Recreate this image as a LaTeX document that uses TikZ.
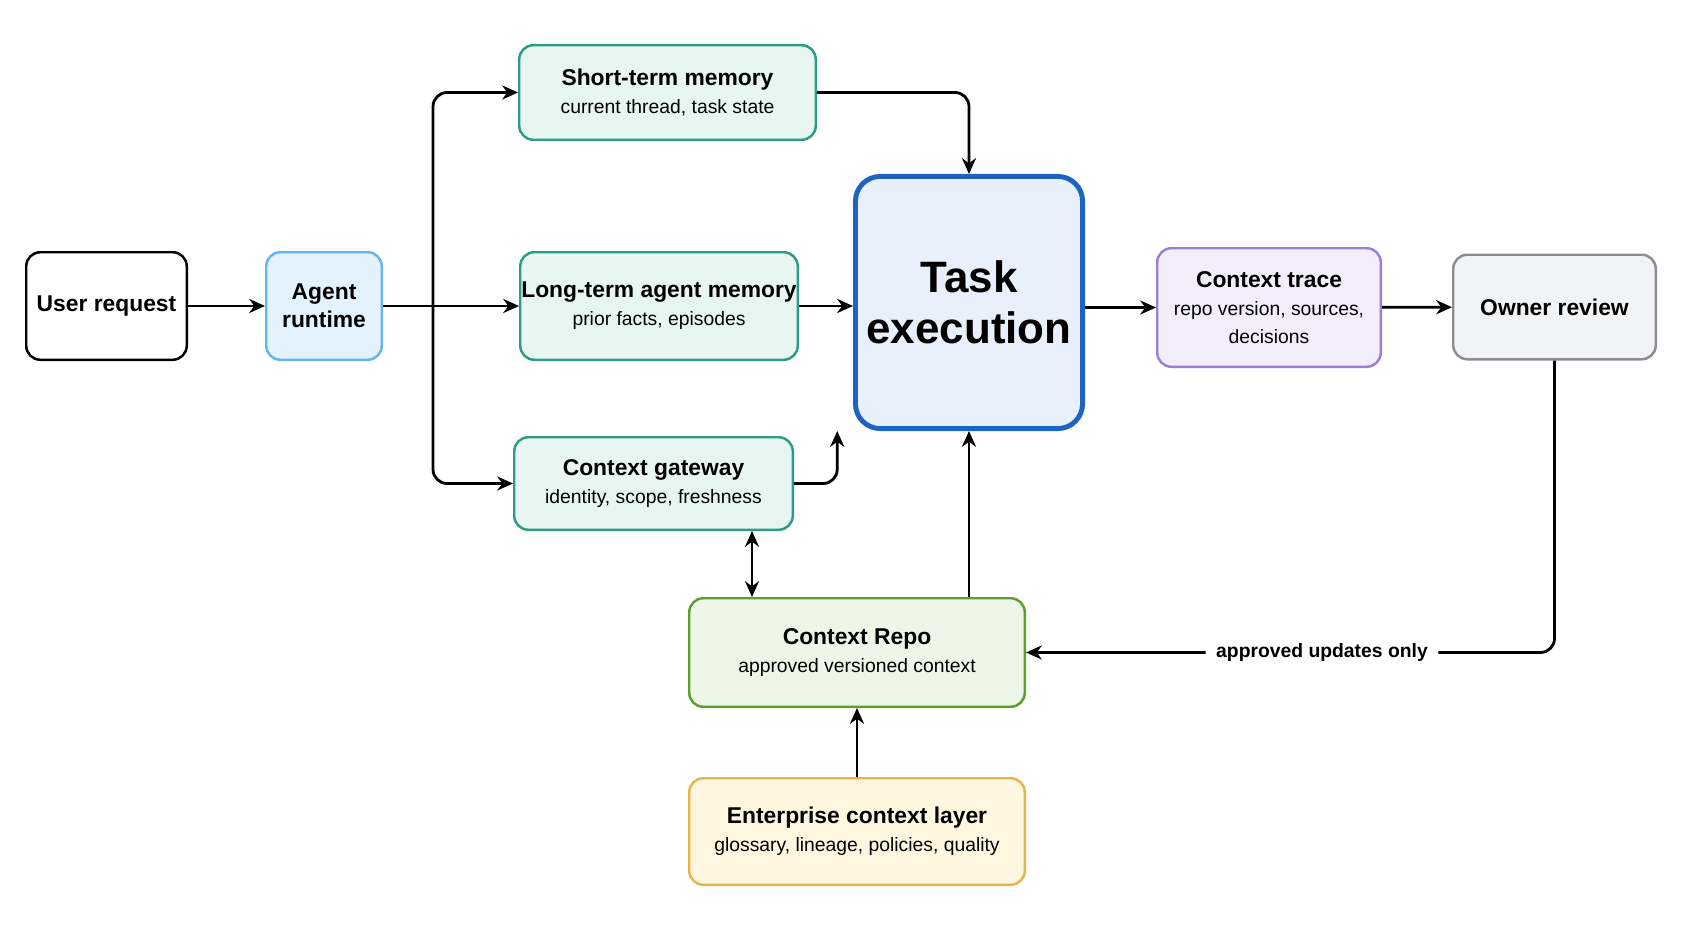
\documentclass[tikz,border=0pt]{standalone}
\usepackage{fontspec}
\setmainfont{Liberation Sans}
\usetikzlibrary{arrows.meta}
\definecolor{teal1}{HTML}{E8F6F2}\definecolor{teal2}{HTML}{2E9C85}
\definecolor{blue1}{HTML}{E3F2FD}\definecolor{blue2}{HTML}{64B5F6}
\definecolor{task1}{HTML}{E8F0FC}\definecolor{task2}{HTML}{1E63C4}
\definecolor{pur1}{HTML}{F3EEFB}\definecolor{pur2}{HTML}{9B7FD6}
\definecolor{gr1}{HTML}{F2F3F5}\definecolor{gr2}{HTML}{8A8D91}
\definecolor{grn1}{HTML}{EEF6E8}\definecolor{grn2}{HTML}{5AA02C}
\definecolor{yel1}{HTML}{FFF6E0}\definecolor{yel2}{HTML}{E6B44A}
\tikzset{
 box/.style={draw, rounded corners=8pt, line width=1.4pt, align=center, inner sep=0pt, font=\fontsize{13}{16}\selectfont},
 arr/.style={-{Stealth[length=9pt,width=8pt]}, line width=1.6pt, rounded corners=8pt},
 sub/.style={font=\fontsize{11}{15}\selectfont}
}
\newcommand{\bx}[7]{\node[box,#6,minimum width=#3*0.02cm-1.4pt,minimum height=#4*0.02cm-1.4pt] (#1) at (#2) {#7};}
\begin{document}
\begin{tikzpicture}[x=0.02cm,y=-0.02cm]
\useasboundingbox (0,0) rectangle (1693,929);
\bx{user}{106.5,306}{163}{110}{}{draw=black,fill=white}{\textbf{User request}}
\bx{agent}{324,306}{118}{110}{}{draw=blue2,fill=blue1}{\textbf{Agent}\\\textbf{runtime}}
\bx{stm}{667.5,92.5}{299}{97}{}{draw=teal2,fill=teal1}{\textbf{Short-term memory}\\{\fontsize{11}{15}\selectfont current thread, task state}}
\bx{ltm}{659,306}{280}{110}{}{draw=teal2,fill=teal1}{\textbf{Long-term agent memory}\\{\fontsize{11}{15}\selectfont prior facts, episodes}}
\bx{gw}{653.5,483.5}{281}{95}{}{draw=teal2,fill=teal1}{\textbf{Context gateway}\\{\fontsize{11}{15}\selectfont identity, scope, freshness}}
\node[box,draw=task2,fill=task1,line width=2.8pt,rounded corners=14pt,minimum width=232*0.02cm-2.8pt,minimum height=257*0.02cm-2.8pt,font=\fontsize{25}{29}\selectfont\bfseries] (task) at (969,302.5) {Task\\execution};
\bx{trace}{1269,307.5}{226}{121}{}{draw=pur2,fill=pur1}{\textbf{Context trace}\\{\fontsize{11}{15}\selectfont repo version, sources,}\\{\fontsize{11}{15}\selectfont decisions}}
\bx{owner}{1554.5,307}{205}{107}{}{draw=gr2,fill=gr1}{\textbf{Owner review}}
\bx{repo}{857,652.5}{338}{111}{}{draw=grn2,fill=grn1}{\textbf{Context Repo}\\{\fontsize{11}{15}\selectfont approved versioned context}}
\bx{ent}{857,831.5}{338}{109}{}{draw=yel2,fill=yel1}{\textbf{Enterprise context layer}\\{\fontsize{11}{15}\selectfont glossary, lineage, policies, quality}}
\coordinate (br) at (433,306);
\draw[arr] (user) -- (agent);
\draw[arr] (agent) -- (ltm);
\draw[arr] (br) |- (stm.west);
\draw[arr] (br) |- (gw.west);
\draw[arr] (ltm) -- (task.west |- ltm);
\draw[arr] (stm.east) -| (task.north);
\draw[arr] (gw.east) -| ([xshift=-75pt]task.south);
\draw[arr] (repo.north -| task.south) -- (task.south);
\draw[{Stealth[length=9pt,width=8pt]}-{Stealth[length=9pt,width=8pt]},line width=1.6pt] (gw.south -| 752,0) -- (repo.north -| 752,0);
\draw[arr] (ent) -- (repo);
\draw[arr] (task.east |- trace) -- (trace);
\draw[arr] (trace) -- (owner);
\draw[arr] (owner.south) |- node[pos=0.72,fill=white,inner xsep=6pt,font=\fontsize{11}{14}\selectfont\bfseries]{approved updates only} (repo.east);
\end{tikzpicture}
\end{document}
